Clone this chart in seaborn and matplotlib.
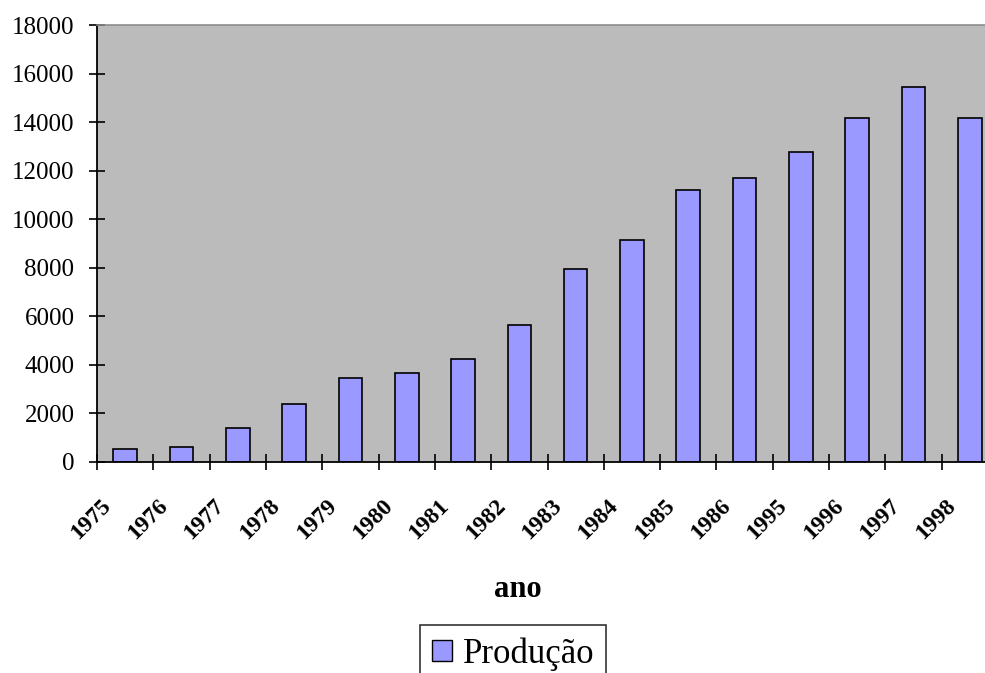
import matplotlib
matplotlib.use('Agg')
import matplotlib.pyplot as plt
import matplotlib.transforms as mtransforms
from matplotlib.patches import Patch
import numpy as np
import pandas as pd
import seaborn as sns

# %%

anos = ['1975', '1976', '1977', '1978', '1979', '1980', '1981', '1982',
        '1983', '1984', '1985', '1986', '1995', '1996', '1997', '1998']
producao = [530, 600, 1400, 2390, 3450, 3650, 4250, 5650,
            7950, 9150, 11200, 11700, 12750, 14150, 15450, 14150]

df = pd.DataFrame({'ano': anos, 'Produção': producao})

# %%

sns.set_style('white')
plt.rcParams['font.family'] = ['Liberation Serif', 'DejaVu Serif']
plt.rcParams['text.color'] = 'black'
plt.rcParams['xtick.color'] = 'black'
plt.rcParams['ytick.color'] = 'black'
plt.rcParams['xtick.labelcolor'] = 'black'
plt.rcParams['ytick.labelcolor'] = 'black'

fig = plt.figure(figsize=(9.85, 6.73), dpi=100)
ax = fig.add_axes([97 / 985, 211 / 673, 901 / 985, 437 / 673])
ax.set_facecolor('#BBBBBB')

sns.barplot(data=df, x='ano', y='Produção', color='#9999FF',
            edgecolor='black', linewidth=1.2, width=0.42,
            saturation=1, ax=ax)

ax.set_xlim(-0.5, len(anos) - 0.5)
ax.set_ylim(0, 18000)
ax.set_yticks(np.arange(0, 18001, 2000))
ax.set_xlabel('')
ax.set_ylabel('')

for s in ['left', 'bottom']:
    ax.spines[s].set_color('black')
    ax.spines[s].set_linewidth(1.3)
ax.spines['top'].set_color('#8C8C8C')
ax.spines['top'].set_linewidth(1.2)
ax.spines['right'].set_visible(False)

ax.tick_params(axis='y', direction='inout', length=11.5, width=1.2,
               pad=10.5, labelsize=18, left=True, colors='black')
ax.tick_params(axis='x', which='major', length=0, pad=29.5,
               labelsize=17, bottom=True, colors='black')
ax.set_xticks(np.arange(len(anos) + 1) - 0.5, minor=True)
ax.tick_params(axis='x', which='minor', direction='inout', length=12,
               width=1.2, bottom=True, colors='black')

offset = mtransforms.ScaledTranslation(-17 / 100, 0, fig.dpi_scale_trans)
for lab in ax.get_xticklabels():
    lab.set_rotation(45)
    lab.set_ha('right')
    lab.set_va('center')
    lab.set_rotation_mode('anchor')
    lab.set_fontweight('bold')
    lab.set_transform(lab.get_transform() + offset)

fig.text(518 / 985, 76 / 673, 'ano', ha='center', va='baseline',
         fontsize=22, fontweight='bold', color='black')

handle = Patch(facecolor='#9999FF', edgecolor='black', linewidth=1)
leg = fig.legend([handle], ['Produção'], loc='upper left',
                 bbox_to_anchor=(420 / 985, 48 / 673), borderaxespad=0,
                 fontsize=25, frameon=True, fancybox=False, shadow=False,
                 handlelength=0.58, handleheight=0.58, handletextpad=0.3,
                 borderpad=0.35)
leg.get_frame().set_edgecolor('black')
leg.get_frame().set_linewidth(1.2)
for t in leg.get_texts():
    t.set_color('black')

plt.savefig('out.png', dpi=100)
